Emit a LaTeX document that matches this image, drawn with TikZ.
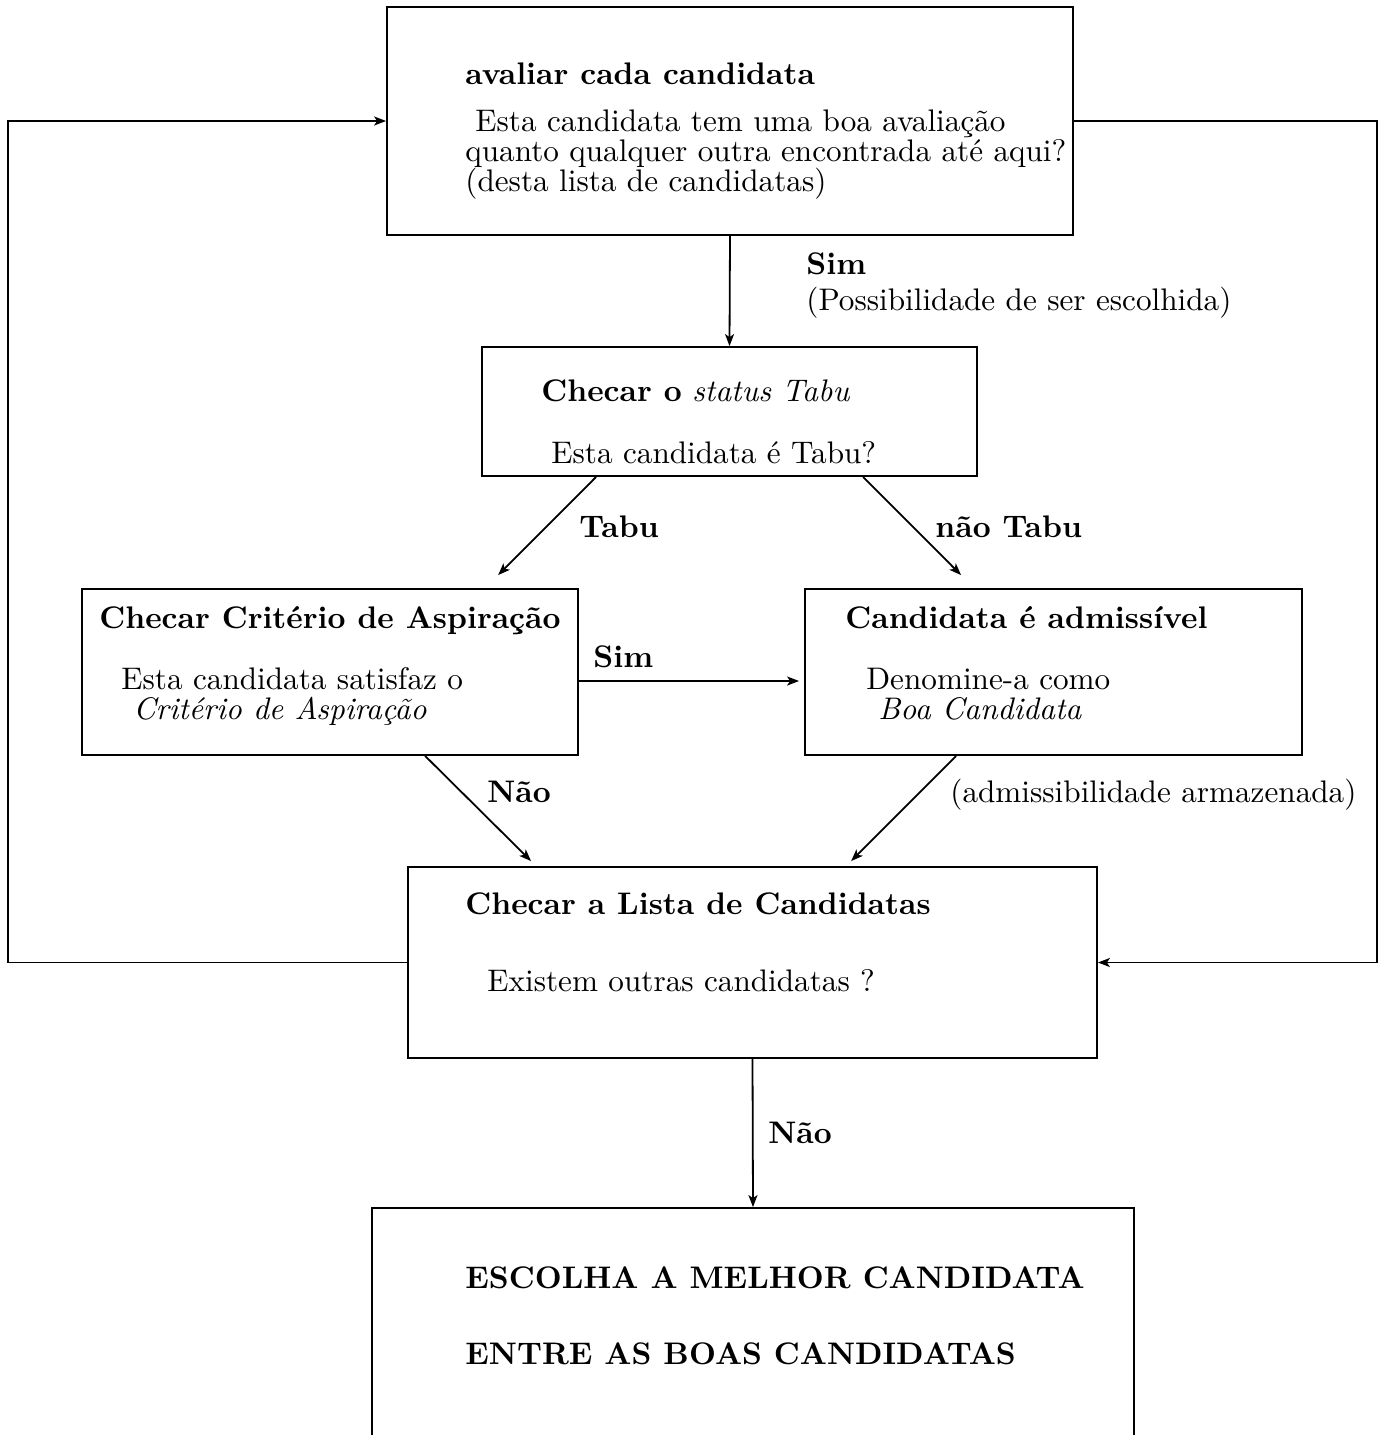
\documentclass[tikz,border=0pt]{standalone}
\usepackage{fontspec}
\setmainfont{lmroman10-regular.otf}[BoldFont=lmroman10-bold.otf, ItalicFont=lmroman10-italic.otf, BoldItalicFont=lmroman10-bolditalic.otf, Ligatures=TeX]
\usetikzlibrary{arrows.meta,fit,calc}
\begin{document}
\begin{tikzpicture}[x=0.5pt,y=-0.5pt,
  box/.style={draw, line width=0.9pt, inner sep=0pt, rectangle},
  txt/.style={anchor=base west, inner sep=0pt, font=\fontsize{15.6}{18}\selectfont},
  arr/.style={line width=0.9pt, -{Stealth[length=6pt,width=4.5pt,inset=1.5pt]}}]
\useasboundingbox (0,0) rectangle (1387,1435);
\clip (0,0) rectangle (1387,1435);

% boxes
\node[box, fit={(387,7) (1073,235)}] (b1) {};
\node[box, fit={(482,347) (977,476)}] (b2) {};
\node[box, fit={(82,589) (578,755)}] (b3) {};
\node[box, fit={(805,589) (1302,755)}] (b4) {};
\node[box, fit={(408,867) (1097,1058)}] (b5) {};
\node[box, fit={(372,1208) (1134,1470)}] (b6) {};

% texts
\node[txt] (t1a) at (465,84) {\textbf{avaliar cada candidata}};
\node[txt] (t1b) at (475,131) {Esta candidata tem uma boa avalia\c{c}\~ao};
\node[txt] (t1c) at (465,161) {quanto qualquer outra encontrada at\'e aqui?};
\node[txt] (t1d) at (465,191) {(desta lista de candidatas)};

\node[txt] (l1a) at (806,274) {\textbf{Sim}};
\node[txt] (l1b) at (806,310) {(Possibilidade de ser escolhida)};

\node[txt] (t2a) at (541,401) {\textbf{Checar o} \textit{status Tabu}};
\node[txt] (t2b) at (551,463) {Esta candidata \'e Tabu?};

\node[txt] (l2) at (579,537) {\textbf{Tabu}};
\node[txt] (l3) at (935,537) {\textbf{n\~ao Tabu}};

\node[txt] (t3a) at (99,628) {\textbf{Checar Crit\'erio de Aspira\c{c}\~ao}};
\node[txt] (t3b) at (121,689) {Esta candidata satisfaz o};
\node[txt] (t3c) at (133,719) {\textit{Crit\'erio de Aspira\c{c}\~ao}};

\node[txt] (t4a) at (845,628) {\textbf{Candidata \'e admiss\'ivel}};
\node[txt] (t4b) at (866,689) {Denomine-a como};
\node[txt] (t4c) at (878,719) {\textit{Boa Candidata}};

\node[txt] (l4) at (593,667) {\textbf{Sim}};
\node[txt] (l5) at (487,802) {\textbf{N\~ao}};
\node[txt] (l6) at (950,802) {(admissibilidade armazenada)};

\node[txt] (t5a) at (465,914) {\textbf{Checar a Lista de Candidatas}};
\node[txt] (t5b) at (487,991) {Existem outras candidatas ?};

\node[txt] (l7) at (768,1143) {\textbf{N\~ao}};

\node[txt] (t6a) at (465,1288) {\textbf{ESCOLHA A MELHOR CANDIDATA}};
\node[txt] (t6b) at (465,1364) {\textbf{ENTRE AS BOAS CANDIDATAS}};

% connectors
\coordinate (L) at (8,0);
\coordinate (R) at (1377,0);
\draw[arr] (b1.south) -- (b2.north);
\draw[arr] ($(b2.south west)+(115,0)$) -- ($(b3.north west)+(417,-13)$);
\draw[arr] ($(b2.south west)+(382,0)$) -- ($(b4.north west)+(157,-13)$);
\draw[arr] ($(b3.east)+(0,9)$) -- ($(b4.west)+(-5,9)$);
\draw[arr] ($(b3.south west)+(344,0)$) -- ($(b5.north west)+(124,-5)$);
\draw[arr] ($(b4.south west)+(152,0)$) -- ($(b5.north west)+(444,-5)$);
\draw[arr] (b5.south) -- (b6.north);
\draw[arr] (b5.west) -- (b5.west -| L) -- (b1.west -| L) -- (b1.west);
\draw[arr] (b1.east) -- (b1.east -| R) -- (b5.east -| R) -- (b5.east);
\end{tikzpicture}
\end{document}
